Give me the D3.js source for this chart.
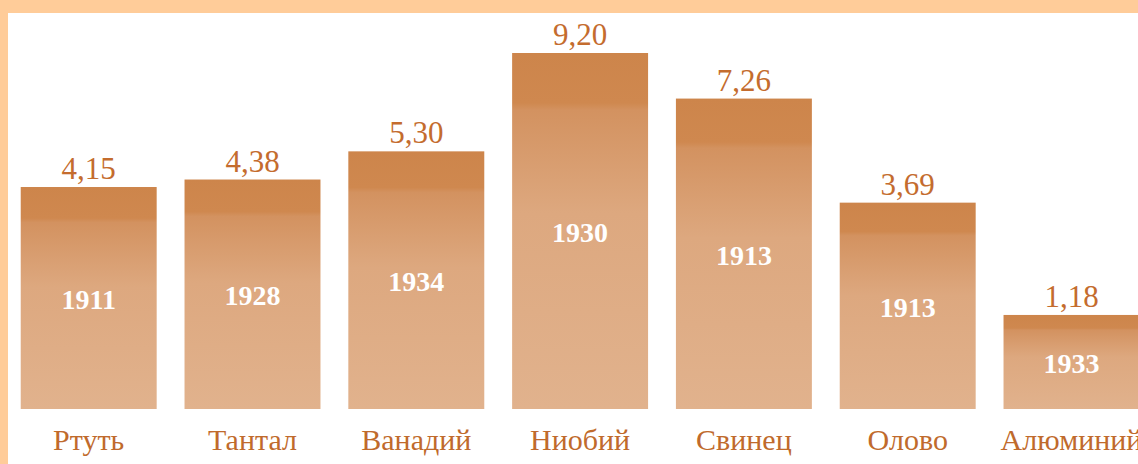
<!DOCTYPE html>
<html>
<head>
<meta charset="utf-8">
<script src="https://cdn.jsdelivr.net/npm/d3@7"></script>
<style>
  body { margin: 0; background: #fff; }
  svg { display: block; }
</style>
</head>
<body>
<svg id="chart" width="1138" height="464"></svg>
<script>
// metals, record values and years
var metals = ["Ртуть", "Тантал", "Ванадий", "Ниобий", "Свинец", "Олово", "Алюминий"];
var values = [4.15, 4.38, 5.30, 9.20, 7.26, 3.69, 1.18];
var years = [1911, 1928, 1934, 1930, 1913, 1913, 1933];

var width = 1138,
    height = 464,
    baseY = 409;

var svg = d3.select("#chart");

// frame strips (top and left)
svg.append("rect").attr("x", 0).attr("y", 0).attr("width", width).attr("height", 13).attr("fill", "#FFCC99");
svg.append("rect").attr("x", 0).attr("y", 0).attr("width", 8).attr("height", height).attr("fill", "#FFCC99");

// bar gradient
var grad = svg.append("defs").append("linearGradient")
    .attr("id", "barGrad")
    .attr("x1", 0).attr("y1", 0).attr("x2", 0).attr("y2", 1);
grad.append("stop").attr("offset", "0%").attr("stop-color", "#CD854B");
grad.append("stop").attr("offset", "14%").attr("stop-color", "#CF884F");
grad.append("stop").attr("offset", "16%").attr("stop-color", "#D39260");
grad.append("stop").attr("offset", "45%").attr("stop-color", "#DDA87F");
grad.append("stop").attr("offset", "100%").attr("stop-color", "#E1B28D");

var x = d3.scaleBand()
    .domain(metals)
    .range([6.8, 6.8 + 7 * 163.8])
    .paddingInner(0.17)
    .paddingOuter(0.085);

// the heights in the original picture are not proportional, a sqrt scale fits them best
var y = d3.scalePow().exponent(0.5)
    .domain([0.15, 9.2])
    .range([baseY, 53]);

var data = metals.map(function (m, i) {
    return { name: m, value: values[i], year: years[i] };
});

var bars = svg.append("g").selectAll("g")
    .data(data)
    .enter().append("g");

bars.append("rect")
    .attr("x", function (d) { return x(d.name); })
    .attr("y", function (d) { return y(d.value); })
    .attr("width", x.bandwidth())
    .attr("height", function (d) { return baseY - y(d.value); })
    .attr("fill", "url(#barGrad)");

// value above the bar
bars.append("text")
    .attr("x", function (d) { return x(d.name) + x.bandwidth() / 2; })
    .attr("y", function (d) { return y(d.value) - 8; })
    .attr("text-anchor", "middle")
    .attr("font-family", "'Liberation Serif', serif")
    .attr("font-size", 31)
    .attr("fill", "#C46C2E")
    .text(function (d) { return d3.format(".2f")(d.value).replace(".", ","); });

// year inside the bar
bars.append("text")
    .attr("x", function (d) { return x(d.name) + x.bandwidth() / 2; })
    .attr("y", function (d) { return (y(d.value) + baseY) / 2 + 11; })
    .attr("text-anchor", "middle")
    .attr("font-family", "'Liberation Serif', serif")
    .attr("font-weight", "bold")
    .attr("font-size", 28)
    .attr("fill", "#fff")
    .text(function (d) { return d.year; });

// metal name under the bar
bars.append("text")
    .attr("x", function (d) { return x(d.name) + x.bandwidth() / 2; })
    .attr("y", 450)
    .attr("text-anchor", "middle")
    .attr("font-family", "'Liberation Serif', serif")
    .attr("font-size", 30)
    .attr("fill", "#C06A2C")
    .text(function (d) { return d.name; });
</script>
</body>
</html>
